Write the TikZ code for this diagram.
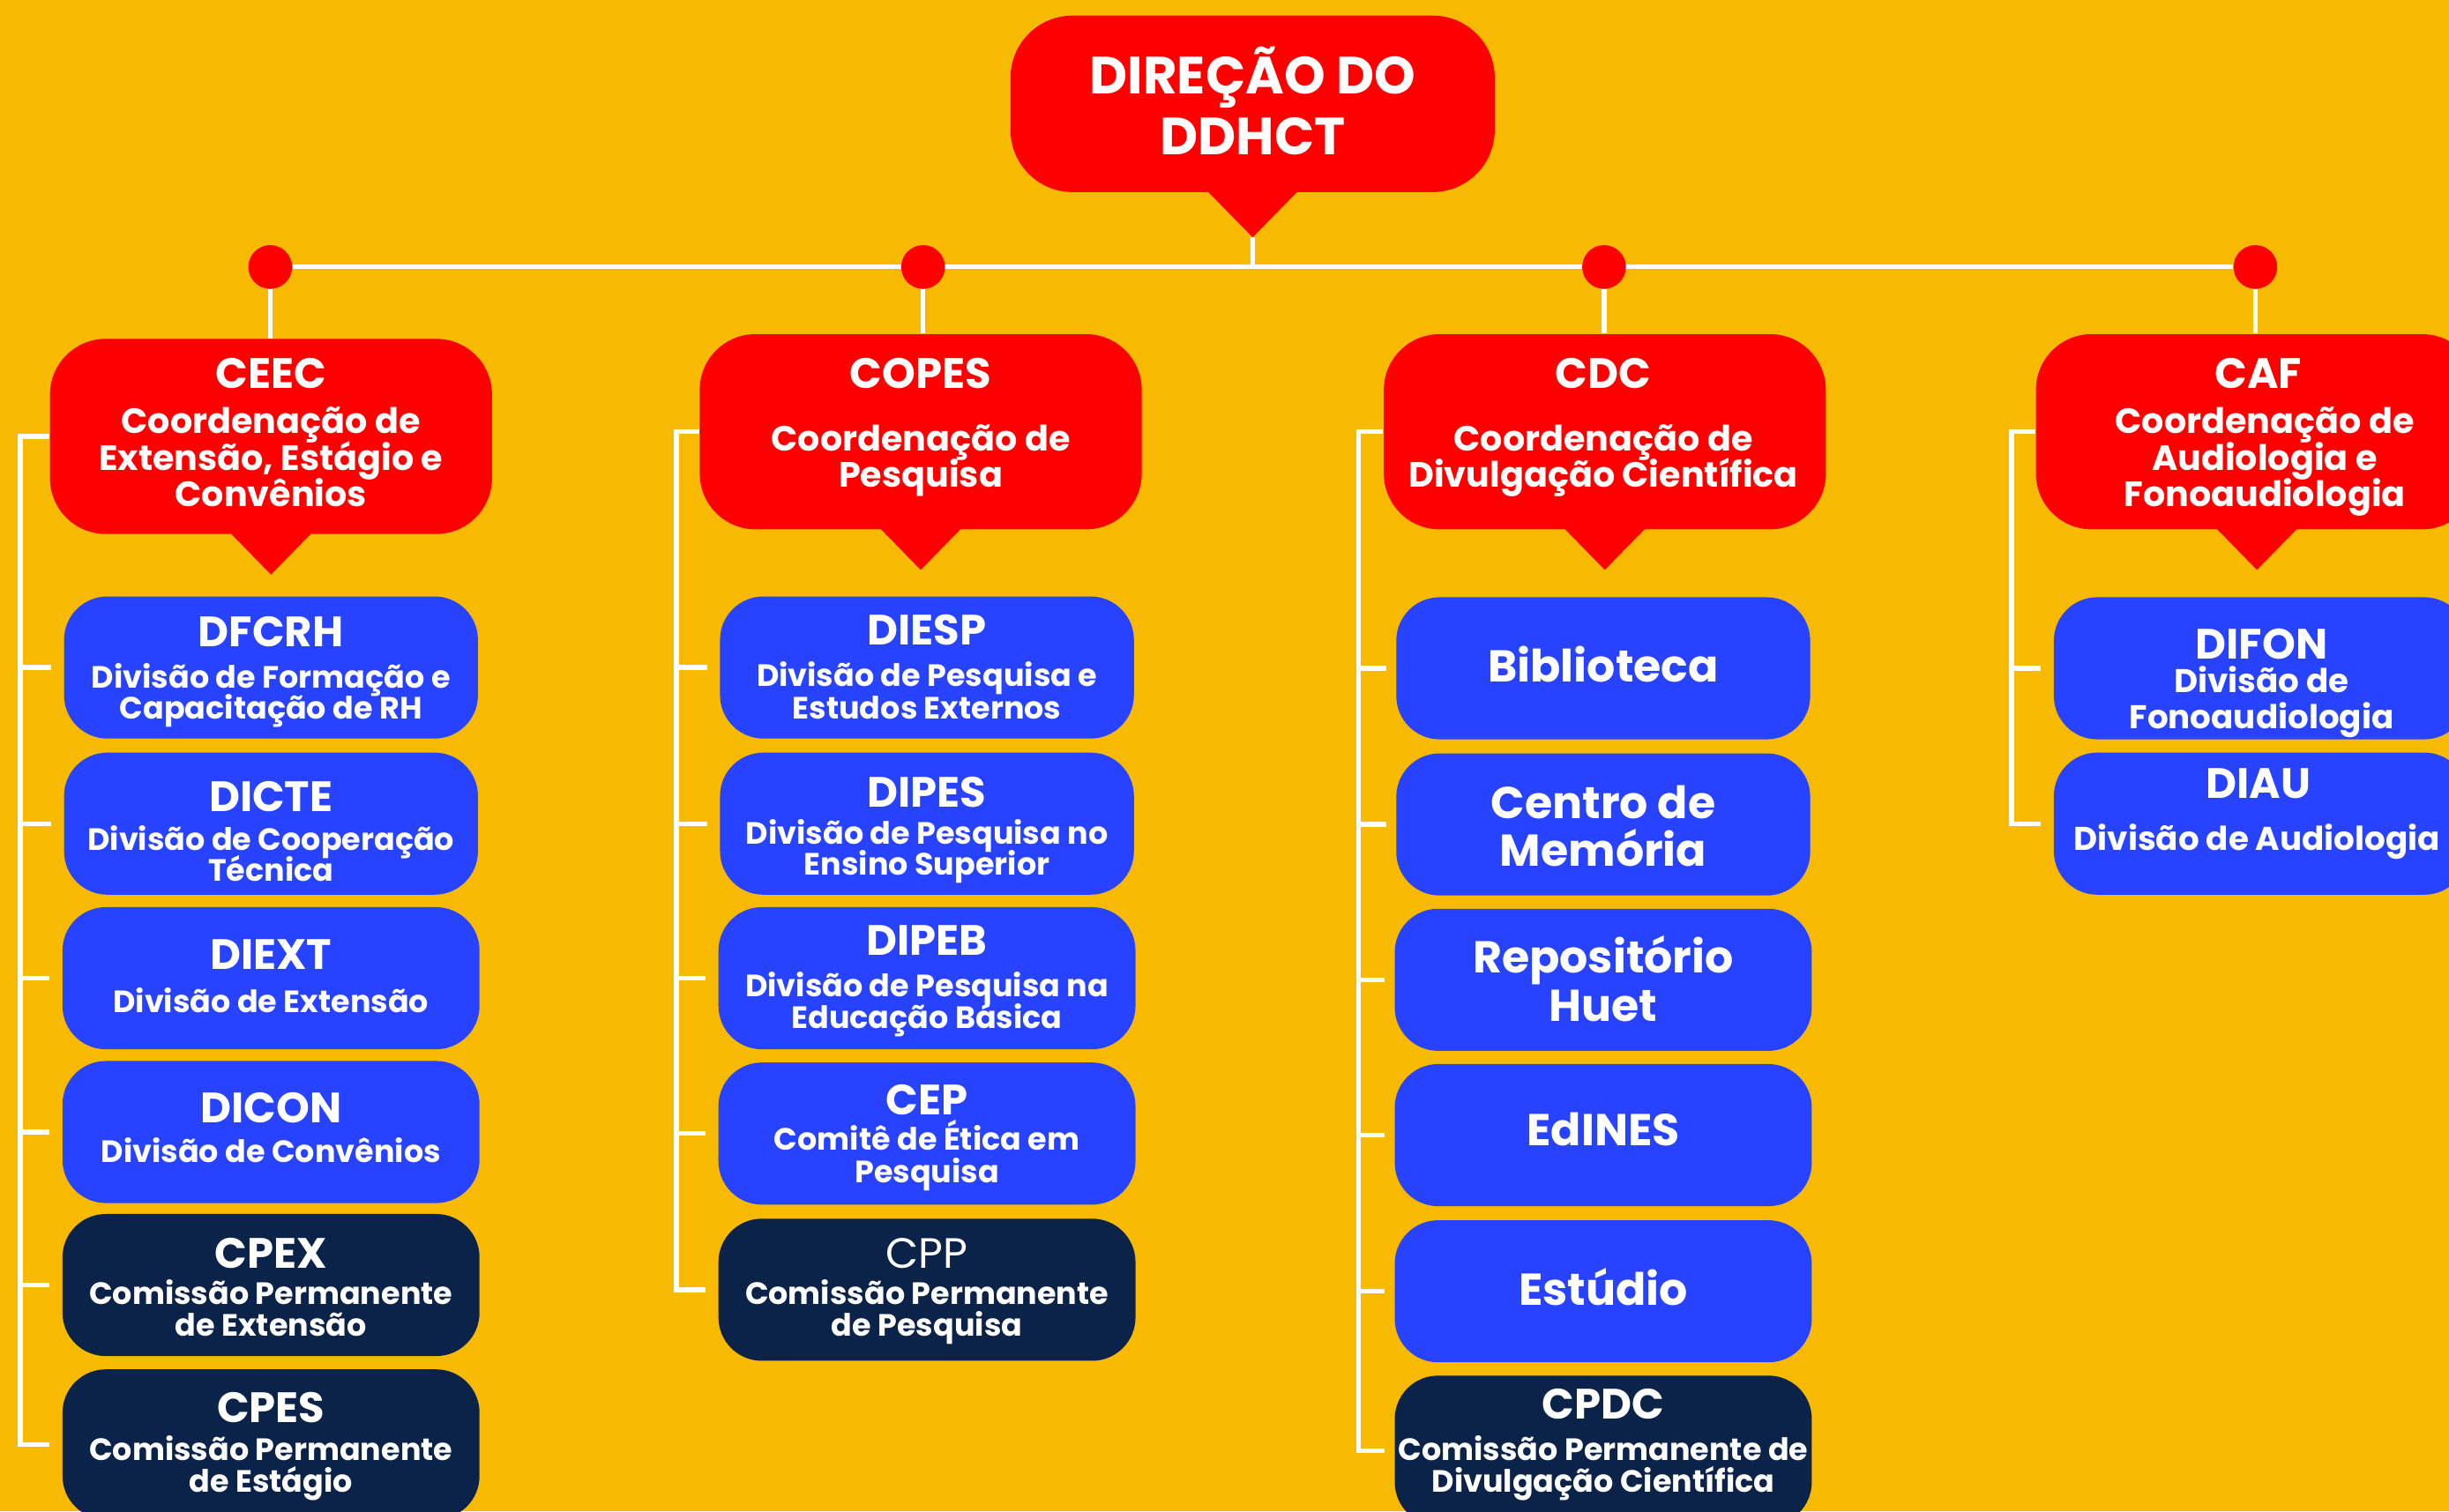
\documentclass[tikz,border=0pt]{standalone}
\usepackage{fontspec}
\setmainfont{Poppins}
\usetikzlibrary{calc}
\definecolor{bgc}{HTML}{F8BA00}
\definecolor{redc}{HTML}{FF0000}
\definecolor{bluec}{HTML}{2843FF}
\definecolor{navyc}{HTML}{0B2249}
\def\UL{0.01771cm}
\pgfdeclarelayer{back}
\pgfdeclarelayer{lines}
\pgfsetlayers{back,lines,main}
\tikzset{
  conn/.style={draw=white, line width=1.5pt},
  dot/.style={circle, fill=redc, minimum size=28*\UL, inner sep=0},
  topbox/.style={fill=redc, rounded corners=20pt, minimum width=310*\UL, minimum height=113*\UL, inner sep=0},
  redbox/.style={fill=redc, rounded corners=18pt, minimum width=283*\UL, minimum height=125*\UL, inner sep=0},
  bbox/.style={fill=bluec, rounded corners=14pt, minimum width=265*\UL, minimum height=91*\UL, inner sep=0},
  nbox/.style={bbox, fill=navyc},
  txt/.style={anchor=base, text=white, inner sep=0},
  ttop/.style={txt, font=\fontsize{16.9}{20}\selectfont\bfseries},
  trt/.style={txt, font=\fontsize{13.7}{16}\selectfont\bfseries},
  trs/.style={txt, font=\fontsize{11.3}{13}\selectfont\bfseries},
  tbt/.style={txt, font=\fontsize{13.7}{16}\selectfont\bfseries},
  tbr/.style={txt, font=\fontsize{13.7}{16}\selectfont},
  tbs/.style={txt, font=\fontsize{9.95}{12}\selectfont\bfseries},
  tcs/.style={txt, font=\fontsize{10.6}{12}\selectfont\bfseries},
  tbig/.style={txt, font=\fontsize{14.4}{17}\selectfont\bfseries},
}
\begin{document}
\begin{tikzpicture}[x=0.01771cm, y=-0.01771cm]
\useasboundingbox (0,0) rectangle (1568,968);
\begin{pgfonlayer}{back}
\fill[bgc] (0,0) rectangle (1568,968);
\end{pgfonlayer}
\clip (0,0) rectangle (1568,968);

% ---------- top ----------
\node[topbox] (top) at (802,66.5) {};
\fill[redc] ($(top.south)+(-30,-2)$) -- (802,152) coordinate (toptip) -- ($(top.south)+(30,-2)$) -- cycle;
\node[ttop] (top-a) at (802,60) {DIREÇÃO DO};
\node[ttop] (top-b) at (802,99) {DDHCT};

% ---------- dots ----------
\node[dot] (d1) at (173,171) {};
\node[dot] (d2) at (591,171) {};
\node[dot] (d3) at (1027,171) {};
\node[dot] (d4) at (1444,171) {};

% ---------- red boxes ----------
\node[redbox] (ceec) at (173.5,279.5) {};
\node[redbox] (copes) at (589.5,276.5) {};
\node[redbox] (cdc) at (1027.5,276.5) {};
\node[redbox] (caf) at (1445,276.5) {};
\fill[redc] ($(ceec.south)+(-27,-2)$) -- (173.5,368) -- ($(ceec.south)+(27,-2)$) -- cycle;
\fill[redc] ($(copes.south)+(-27,-2)$) -- (589.5,365) -- ($(copes.south)+(27,-2)$) -- cycle;
\fill[redc] ($(cdc.south)+(-27,-2)$) -- (1027.5,365) -- ($(cdc.south)+(27,-2)$) -- cycle;
\fill[redc] ($(caf.south)+(-27,-2)$) -- (1445,365) -- ($(caf.south)+(27,-2)$) -- cycle;

\node[trt] (ceec-1) at (173.5,249) {CEEC};
\node[trs] (ceec-2) at (173.5,277.5) {Coordenação de};
\node[trs] (ceec-3) at (173.5,301) {Extensão, Estágio e};
\node[trs] (ceec-4) at (173.5,324.5) {Convênios};

\node[trt] (copes-1) at (589.5,249) {COPES};
\node[trs] (copes-2) at (589.5,289) {Coordenação de};
\node[trs] (copes-3) at (589.5,312) {Pesquisa};

\node[trt] (cdc-1) at (1026.5,249) {CDC};
\node[trs] (cdc-2) at (1026.5,289) {Coordenação de};
\node[trs] (cdc-3) at (1026.5,312) {Divulgação Científica};

\node[trt] (caf-1) at (1446,249) {CAF};
\node[trs] (caf-2) at (1450,277.5) {Coordenação de};
\node[trs] (caf-3) at (1450,301) {Audiologia e};
\node[trs] (caf-4) at (1450,324.5) {Fonoaudiologia};

% ---------- column 1 ----------
\node[bbox] (dfcrh) at (173.5,427.5) {};
\node[bbox] (dicte) at (173.5,527.5) {};
\node[bbox, minimum width=267*\UL] (diext) at (173.5,626.5) {};
\node[bbox, minimum width=267*\UL] (dicon) at (173.5,725) {};
\node[nbox, minimum width=267*\UL] (cpex) at (173.5,823) {};
\node[nbox, minimum width=267*\UL, minimum height=96*\UL] (cpes) at (173.5,925) {};

\node[tbt] (dfcrh-1) at (173.5,414) {DFCRH};
\node[tbs] (dfcrh-2) at (173.5,440.5) {Divisão de Formação e};
\node[tbs] (dfcrh-3) at (173.5,460.5) {Capacitação de RH};
\node[tbt] (dicte-1) at (173.5,520) {DICTE};
\node[tbs] (dicte-2) at (173.5,544.5) {Divisão de Cooperação};
\node[tbs] (dicte-3) at (173.5,564.5) {Técnica};
\node[tbt] (diext-1) at (173.5,621) {DIEXT};
\node[tbs] (diext-2) at (173.5,648.5) {Divisão de Extensão};
\node[tbt] (dicon-1) at (173.5,719) {DICON};
\node[tbs] (dicon-2) at (173.5,744.5) {Divisão de Convênios};
\node[tbt] (cpex-1) at (173.5,812) {CPEX};
\node[tbs] (cpex-2) at (173.5,835.5) {Comissão Permanente};
\node[tbs] (cpex-3) at (173.5,855.5) {de Extensão};
\node[tbt] (cpes-1) at (173.5,911) {CPES};
\node[tbs] (cpes-2) at (173.5,935.5) {Comissão Permanente};
\node[tbs] (cpes-3) at (173.5,955.5) {de Estágio};

% ---------- column 2 ----------
\node[bbox] (diesp) at (593.5,427.5) {};
\node[bbox] (dipes) at (593.5,527.5) {};
\node[bbox, minimum width=267*\UL] (dipeb) at (593.5,626.5) {};
\node[bbox, minimum width=267*\UL] (cep) at (593.5,726) {};
\node[nbox, minimum width=267*\UL] (cpp) at (593.5,826) {};

\node[tbt] (diesp-1) at (593.5,413) {DIESP};
\node[tbs] (diesp-2) at (593.5,439.5) {Divisão de Pesquisa e};
\node[tbs] (diesp-3) at (593.5,460.5) {Estudos Externos};
\node[tbt] (dipes-1) at (593.5,517) {DIPES};
\node[tbs] (dipes-2) at (593.5,540.5) {Divisão de Pesquisa no};
\node[tbs] (dipes-3) at (593.5,560.5) {Ensino Superior};
\node[tbt] (dipeb-1) at (593.5,612) {DIPEB};
\node[tbs] (dipeb-2) at (593.5,638.5) {Divisão de Pesquisa na};
\node[tbs] (dipeb-3) at (593.5,658.5) {Educação Básica};
\node[tbt] (cep-1) at (593.5,714) {CEP};
\node[tbs] (cep-2) at (593.5,736.5) {Comitê de Ética em};
\node[tbs] (cep-3) at (593.5,757.5) {Pesquisa};
\node[tbr] (cpp-1) at (593.5,812) {CPP};
\node[tbs] (cpp-2) at (593.5,835.5) {Comissão Permanente};
\node[tbs] (cpp-3) at (593.5,855.5) {de Pesquisa};

% ---------- column 3 ----------
\node[bbox] (bib) at (1026.5,428) {};
\node[bbox] (cmem) at (1026.5,528) {};
\node[bbox, minimum width=267*\UL] (repo) at (1026.5,627.5) {};
\node[bbox, minimum width=267*\UL] (edines) at (1026.5,727) {};
\node[bbox, minimum width=267*\UL] (estudio) at (1026.5,827) {};
\node[nbox, minimum width=267*\UL, minimum height=96*\UL] (cpdc) at (1026.5,929) {};

\node[tbig] (bib-1) at (1026.5,437) {Biblioteca};
\node[tbig] (cmem-1) at (1026.5,524) {Centro de};
\node[tbig] (cmem-2) at (1026.5,555) {Memória};
\node[tbig] (repo-1) at (1026.5,623) {Repositório};
\node[tbig] (repo-2) at (1026.5,654) {Huet};
\node[tbig] (edines-1) at (1026.5,734) {EdINES};
\node[tbig] (estudio-1) at (1026.5,836) {Estúdio};
\node[tbt] (cpdc-1) at (1026.5,909) {CPDC};
\node[tbs] (cpdc-2) at (1026.5,935.5) {Comissão Permanente de};
\node[tbs] (cpdc-3) at (1026.5,955.5) {Divulgação Científica};

% ---------- column 4 ----------
\node[bbox] (difon) at (1447.5,428) {};
\node[bbox] (diau) at (1447.5,527.5) {};
\node[tbt] (difon-1) at (1448,422) {DIFON};
\node[tcs] (difon-2) at (1448,443.5) {Divisão de};
\node[tcs] (difon-3) at (1448,466.5) {Fonoaudiologia};
\node[tbt] (diau-1) at (1446,511) {DIAU};
\node[tcs] (diau-2) at (1445,544.5) {Divisão de Audiologia};

% ---------- connectors ----------
\begin{pgfonlayer}{lines}
\draw[conn] (toptip) -- (toptip |- d1);
\draw[conn] (d1) -- (d4);
\draw[conn] (d1) -- (d1 |- ceec.north);
\draw[conn] (d2) -- (d2 |- copes.north);
\draw[conn] (d3) -- (d3 |- cdc.north);
\draw[conn] (d4) -- (d4 |- caf.north);

\coordinate (b1) at (13,0);
\coordinate (b2) at (433,0);
\coordinate (b3) at (870,0);
\coordinate (b4) at (1288,0);

\draw[conn, shorten >=4pt] (ceec.west) -| (b1 |- cpes.west) -- (cpes.west);
\foreach \n in {dfcrh,dicte,diext,dicon,cpex}
  \draw[conn, shorten >=4pt] (b1 |- \n.west) -- (\n.west);

\draw[conn, shorten >=4pt] (copes.west) -| (b2 |- cpp.west) -- (cpp.west);
\foreach \n in {diesp,dipes,dipeb,cep}
  \draw[conn, shorten >=4pt] (b2 |- \n.west) -- (\n.west);

\draw[conn, shorten >=3pt] (cdc.west) -| (b3 |- cpdc.west) -- (cpdc.west);
\foreach \n in {bib,cmem,repo,edines,estudio}
  \draw[conn, shorten >=3pt] (b3 |- \n.west) -- (\n.west);

\draw[conn, shorten >=4pt] (caf.west) -| (b4 |- diau.west) -- (diau.west);
\draw[conn, shorten >=4pt] (b4 |- difon.west) -- (difon.west);
\end{pgfonlayer}
\end{tikzpicture}
\end{document}
